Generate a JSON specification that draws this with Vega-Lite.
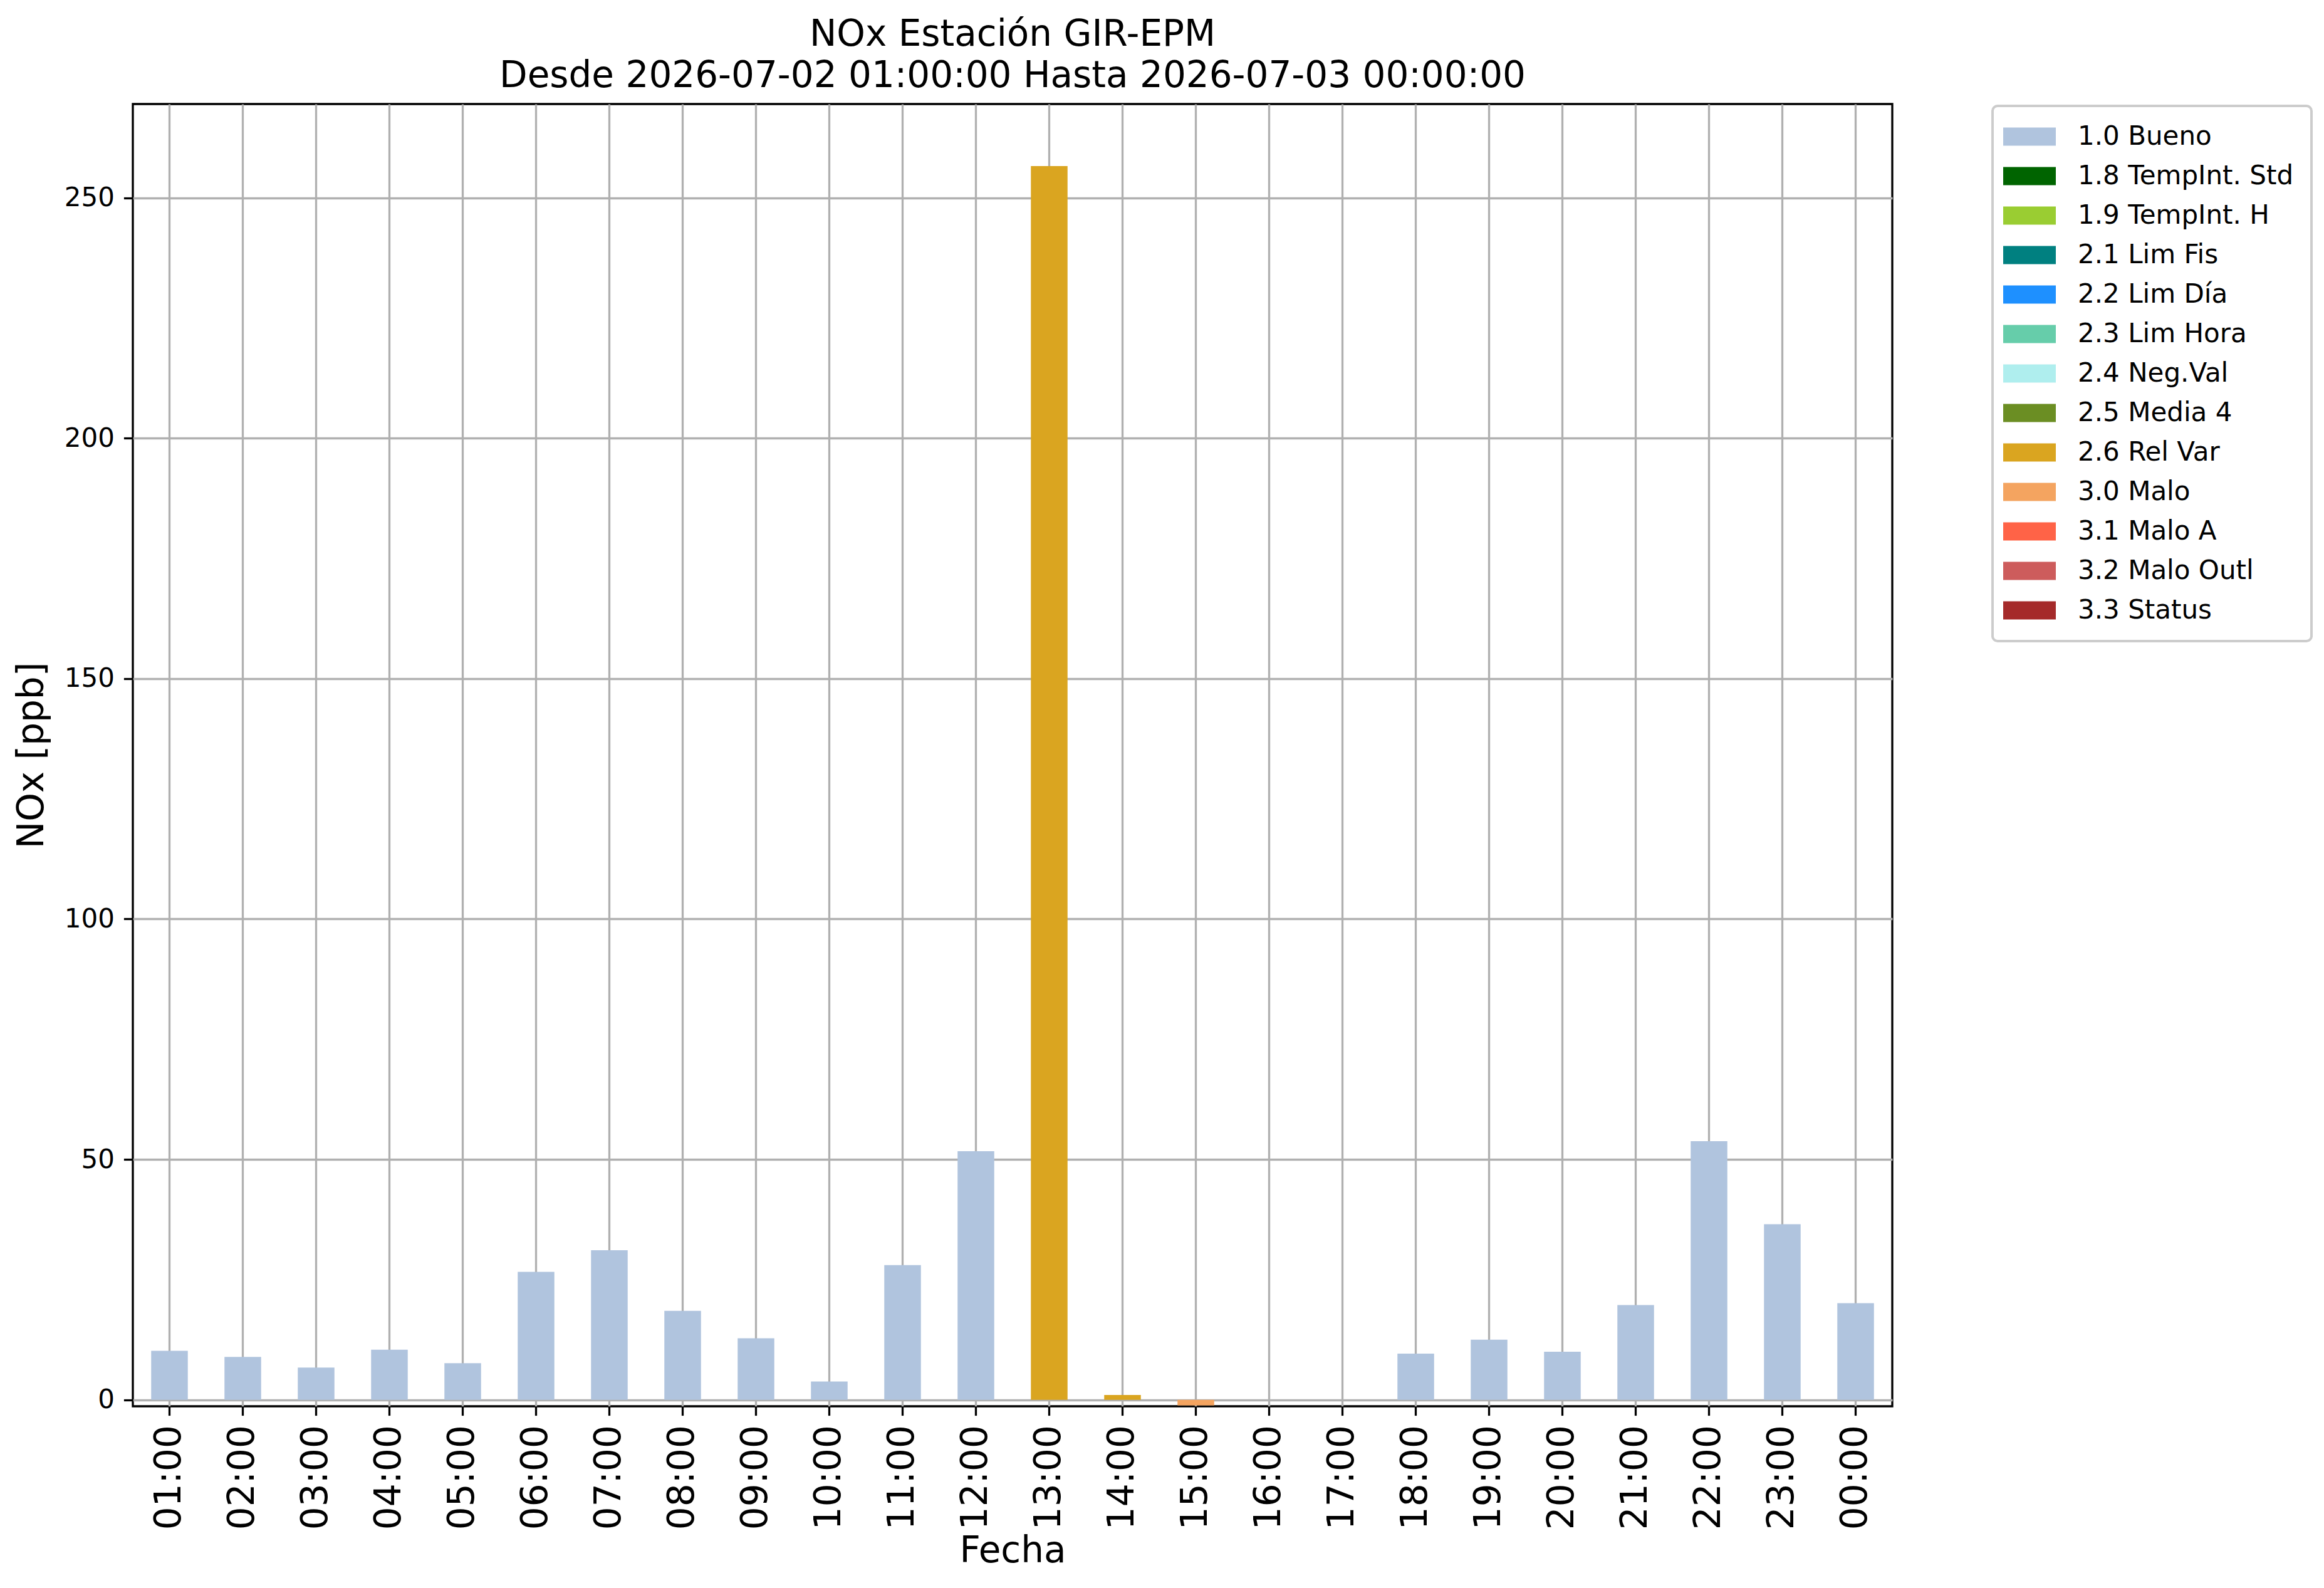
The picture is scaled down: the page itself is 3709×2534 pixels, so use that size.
{
  "$schema": "https://vega.github.io/schema/vega-lite/v6.json",
  "autosize": {"type": "none"},
  "padding": {"left": 212, "top": 166, "right": 689, "bottom": 290},
  "width": 2808,
  "height": 2078,
  "background": "white",
  "title": {
    "text": ["NOx Estación GIR-EPM", "Desde 2026-07-02 01:00:00 Hasta 2026-07-03 00:00:00"],
    "anchor": "middle",
    "frame": "group",
    "font": "DejaVu Sans",
    "fontSize": 58,
    "fontWeight": "normal",
    "lineHeight": 66,
    "color": "black",
    "offset": 15
  },
  "data": {
    "values": [
      {"hora": "01:00", "valor": 10.2, "bandera": "1.0 Bueno"},
      {"hora": "02:00", "valor": 8.9, "bandera": "1.0 Bueno"},
      {"hora": "03:00", "valor": 6.7, "bandera": "1.0 Bueno"},
      {"hora": "04:00", "valor": 10.4, "bandera": "1.0 Bueno"},
      {"hora": "05:00", "valor": 7.6, "bandera": "1.0 Bueno"},
      {"hora": "06:00", "valor": 26.6, "bandera": "1.0 Bueno"},
      {"hora": "07:00", "valor": 31.1, "bandera": "1.0 Bueno"},
      {"hora": "08:00", "valor": 18.5, "bandera": "1.0 Bueno"},
      {"hora": "09:00", "valor": 12.8, "bandera": "1.0 Bueno"},
      {"hora": "10:00", "valor": 3.8, "bandera": "1.0 Bueno"},
      {"hora": "11:00", "valor": 28.0, "bandera": "1.0 Bueno"},
      {"hora": "12:00", "valor": 51.7, "bandera": "1.0 Bueno"},
      {"hora": "13:00", "valor": 256.6, "bandera": "2.6 Rel Var"},
      {"hora": "14:00", "valor": 1.0, "bandera": "2.6 Rel Var"},
      {"hora": "15:00", "valor": -1.2, "bandera": "3.0 Malo"},
      {"hora": "16:00", "valor": null, "bandera": null},
      {"hora": "17:00", "valor": null, "bandera": null},
      {"hora": "18:00", "valor": 9.6, "bandera": "1.0 Bueno"},
      {"hora": "19:00", "valor": 12.5, "bandera": "1.0 Bueno"},
      {"hora": "20:00", "valor": 10.0, "bandera": "1.0 Bueno"},
      {"hora": "21:00", "valor": 19.7, "bandera": "1.0 Bueno"},
      {"hora": "22:00", "valor": 53.8, "bandera": "1.0 Bueno"},
      {"hora": "23:00", "valor": 36.5, "bandera": "1.0 Bueno"},
      {"hora": "00:00", "valor": 20.1, "bandera": "1.0 Bueno"}
    ]
  },
  "mark": {"type": "bar", "tooltip": true},
  "encoding": {
    "x": {
      "field": "hora",
      "type": "ordinal",
      "title": "Fecha",
      "scale": {
        "domain": ["01:00", "02:00", "03:00", "04:00", "05:00", "06:00", "07:00", "08:00", "09:00", "10:00", "11:00", "12:00", "13:00", "14:00", "15:00", "16:00", "17:00", "18:00", "19:00", "20:00", "21:00", "22:00", "23:00", "00:00"],
        "paddingInner": 0.5,
        "paddingOuter": 0.25
      },
      "axis": {
        "labelAngle": 270,
        "labelFontSize": 58,
        "labelPadding": 15,
        "titleFontSize": 58,
        "titlePadding": 6,
        "bandPosition": 0.5
      }
    },
    "y": {
      "field": "valor",
      "type": "quantitative",
      "title": "NOx [ppb]",
      "stack": null,
      "scale": {"domain": [-1.35, 269.5], "nice": false, "zero": false},
      "axis": {
        "values": [0, 50, 100, 150, 200, 250],
        "labelFontSize": 42,
        "labelPadding": 15,
        "titleFontSize": 58,
        "titlePadding": 22
      }
    },
    "color": {
      "field": "bandera",
      "type": "nominal",
      "scale": {
        "domain": ["1.0 Bueno", "1.8 TempInt. Std", "1.9 TempInt. H", "2.1 Lim Fis", "2.2 Lim Día", "2.3 Lim Hora", "2.4 Neg.Val", "2.5 Media 4", "2.6 Rel Var", "3.0 Malo", "3.1 Malo A", "3.2 Malo Outl", "3.3 Status"],
        "range": ["#B0C4DE", "#006400", "#9ACD32", "#008080", "#1E90FF", "#66CDAA", "#AFEEEE", "#6B8E23", "#DAA520", "#F4A460", "#FF6347", "#CD5C5C", "#A52A2A"]
      },
      "legend": {
        "title": null,
        "orient": "none",
        "legendX": 2968,
        "legendY": 3,
        "padding": 28,
        "symbolType": "M-2,-0.69H2V0.69H-2Z",
        "symbolSize": 1764,
        "symbolOffset": 10,
        "symbolStrokeWidth": 0,
        "symbolOpacity": 1,
        "labelFontSize": 42,
        "labelOffset": 56,
        "labelLimit": 600,
        "rowPadding": 21
      }
    }
  },
  "config": {
    "font": "DejaVu Sans",
    "view": {"stroke": "black", "strokeWidth": 3.3},
    "axis": {
      "zindex": 1,
      "domain": false,
      "grid": true,
      "gridColor": "#b0b0b0",
      "gridWidth": 3.3,
      "gridOpacity": 1,
      "tickColor": "black",
      "tickSize": 14.6,
      "tickWidth": 3.3,
      "labelColor": "black",
      "titleColor": "black",
      "titleFontWeight": "normal",
      "labelFont": "DejaVu Sans",
      "titleFont": "DejaVu Sans"
    },
    "legend": {
      "labelFont": "DejaVu Sans",
      "labelColor": "black",
      "strokeColor": "#cccccc",
      "strokeWidth": 4,
      "cornerRadius": 8,
      "fillColor": "white"
    }
  }
}
